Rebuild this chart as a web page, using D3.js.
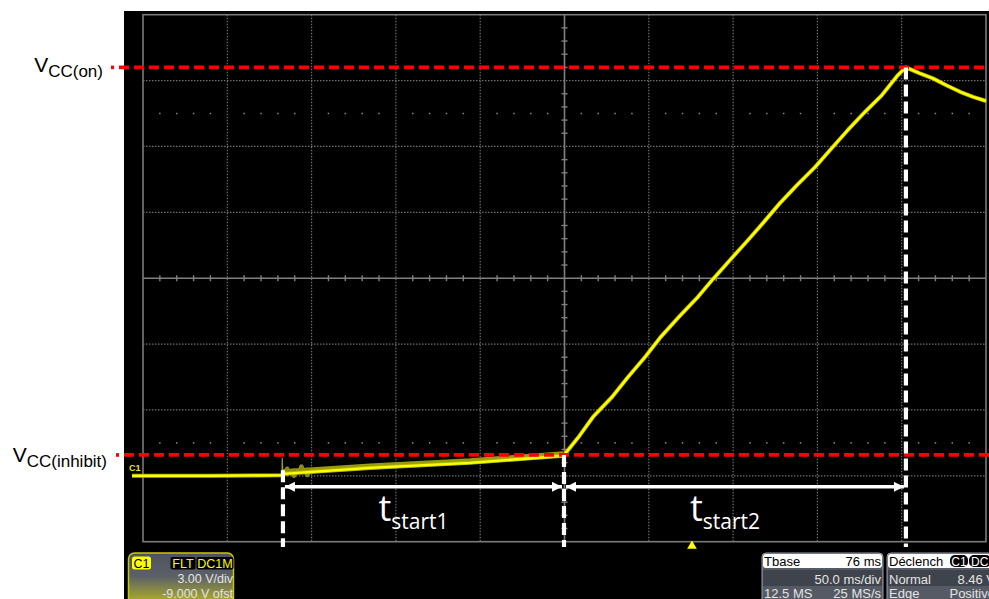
<!DOCTYPE html>
<html><head><meta charset="utf-8">
<script src="https://cdn.jsdelivr.net/npm/d3@7"></script>
<style>html,body{margin:0;padding:0;background:#fff;}svg{display:block}</style>
</head><body><svg id="c" width="989" height="599"></svg>
<script>
// ---- data (time in ms, voltage in V) ----
const xTicks = d3.range(0, 501, 50);          // 50 ms/div
const yTicks = d3.range(-3, 22, 3);           // 3 V/div, centre 9 V
const xMinor = d3.range(0, 501, 10);
const yMinor = d3.range(-3, 21.01, 0.6);
const dotRowsV = [16.5, 1.5];

const traceT = [-6.5, 40, 82.6, 83.0, 134.6, 193.9, 249.3, 250.3, 258.0, 266.9, 278.2, 287.7, 297.8, 306.6, 317.3, 328.6, 338.1, 348.2, 358.9, 367.7, 377.8, 387.9, 398.6, 408.6, 418.1, 428.2, 438.3, 447.8, 451.9, 452.5, 460.8, 468.5, 476.4, 484.6, 492.3, 500];
const traceV = [0.0, 0.0, 0.03, 0.09, 0.36, 0.59, 0.91, 1.0, 1.73, 2.68, 3.59, 4.50, 5.41, 6.28, 7.19, 8.10, 8.96, 9.83, 10.74, 11.51, 12.42, 13.24, 14.06, 14.93, 15.75, 16.57, 17.34, 18.25, 18.57, 18.60, 18.33, 18.10, 17.79, 17.49, 17.26, 17.07];
const rampT = [83.0, 134.6, 193.9, 249.3];
const rampV = [0.09, 0.36, 0.59, 0.91];
const glitchT = [82.4, 82.6, 82.9];
const glitchV = [0.05, 0.82, 0.1];
const noiseT = [85.5, 89.5, 94, 97.5];
const noiseV = [0.2, 0.12, 0.3, 0.15];

const levelNames = ["on", "inhibit"];
const levelV = [18.6, 0.95];
const markerT = [83.0, 249.7, 452.5];
const arrowV = -0.5;
const intervalNames = ["start1", "start2"];

const c1Info = ["C1", "FLT", "DC1M", "3.00 V/div", "-9.000 V ofst"];
const tbaseInfo = ["Tbase", "76 ms", "50.0 ms/div", "12.5 MS", "25 MS/s"];
const trigInfo = ["Déclench", "C1", "DC", "Normal", "8.46 V", "Edge", "Positive"];
const trigT = 325.6; // trigger position marker

// ---- scales ----
const x = d3.scaleLinear().domain([0, 500]).range([143, 986]);
const y = d3.scaleLinear().domain([-3, 21]).range([541.7, 14.7]);

const svg = d3.select("#c");
const defs = svg.append("defs");

svg.append("rect").attr("x", 124).attr("y", 11).attr("width", 865).attr("height", 588).attr("fill", "#000");

// grid
const g = svg.append("g");
g.selectAll(".gx").data(xTicks.slice(1, -1).filter(t => t !== 250)).join("line")
  .attr("x1", d => x(d)).attr("x2", d => x(d)).attr("y1", y(21)).attr("y2", y(-3))
  .attr("stroke", "#6e6e6e").attr("stroke-width", 1.2).attr("stroke-dasharray", "1.5,1.5");
g.selectAll(".gy").data(yTicks.slice(1, -1).filter(v => v !== 9)).join("line")
  .attr("x1", x(0)).attr("x2", x(500)).attr("y1", d => y(d)).attr("y2", d => y(d))
  .attr("stroke", "#6e6e6e").attr("stroke-width", 1.2).attr("stroke-dasharray", "1.5,1.5");
// dot rows
dotRowsV.forEach(v => {
  g.selectAll(null).data(xMinor.filter(t => t % 50 !== 0)).join("rect")
    .attr("x", d => x(d) - 0.75).attr("y", y(v) - 0.75).attr("width", 1.5).attr("height", 1.5).attr("fill", "#8a8a8a");
});
// centre axes with ticks
g.append("line").attr("x1", x(0)).attr("x2", x(500)).attr("y1", y(9)).attr("y2", y(9)).attr("stroke", "#808080").attr("stroke-width", 1.6);
g.append("line").attr("x1", x(250)).attr("x2", x(250)).attr("y1", y(21)).attr("y2", y(-3)).attr("stroke", "#808080").attr("stroke-width", 1.6);
g.selectAll(null).data(xMinor.filter(t => t % 50 !== 0)).join("line")
  .attr("x1", d => x(d)).attr("x2", d => x(d)).attr("y1", y(9) - 3).attr("y2", y(9) + 3).attr("stroke", "#808080").attr("stroke-width", 1.4);
g.selectAll(null).data(yMinor.filter(v => Math.abs(((v + 3) / 3) - Math.round((v + 3) / 3)) > 0.01)).join("line")
  .attr("x1", x(250) - 3).attr("x2", x(250) + 3).attr("y1", d => y(d)).attr("y2", d => y(d)).attr("stroke", "#808080").attr("stroke-width", 1.4);
// frame
g.append("rect").attr("x", x(0)).attr("y", y(21)).attr("width", x(500) - x(0)).attr("height", y(-3) - y(21))
  .attr("fill", "none").attr("stroke", "#7a7a7a").attr("stroke-width", 1.6);

// trace
const line = d3.line().x(d => x(d[0])).y(d => y(d[1]));
svg.append("path").datum(rampT.map((t, i) => [t, rampV[i] + 0.07]))
  .attr("d", line).attr("fill", "none").attr("stroke", "#9a9a10").attr("stroke-width", 6);
svg.selectAll(".nz").data(noiseT).join("ellipse")
  .attr("cx", d => x(d)).attr("cy", (d, i) => y(noiseV[i])).attr("rx", 3).attr("ry", 5).attr("fill", "#8c8c12");
svg.append("path").datum(glitchT.map((t, i) => [t, glitchV[i]]))
  .attr("d", line).attr("fill", "none").attr("stroke", "#9a9a20").attr("stroke-width", 1.2);
svg.append("path").datum(traceT.map((t, i) => [t, traceV[i]]))
  .attr("d", line).attr("fill", "none").attr("stroke", "#b5b500").attr("stroke-width", 4).attr("stroke-linejoin", "round");
svg.append("path").datum(traceT.map((t, i) => [t, traceV[i]]))
  .attr("d", line).attr("fill", "none").attr("stroke", "#ffff00").attr("stroke-width", 2.4).attr("stroke-linejoin", "round");
svg.append("text").attr("x", 129).attr("y", y(traceV[0]) - 5).text("C1")
  .attr("fill", "#e6e600").attr("font-family", "Liberation Sans, Arial").attr("font-size", 9).attr("font-weight", "bold");

// red threshold lines
levelV.forEach((v, i) => {
  const dotX = i === 0 ? 111 : 116;
  svg.append("rect").attr("x", dotX).attr("y", y(v) - 1.8).attr("width", 3).attr("height", 3.6).attr("fill", "#ff0000");
  svg.append("line").attr("x1", dotX + 8).attr("x2", 989).attr("y1", y(v)).attr("y2", y(v))
    .attr("stroke", "#ff0000").attr("stroke-width", 3.8).attr("stroke-dasharray", "10,5");
  const t = svg.append("text").attr("text-anchor", "end").attr("x", i === 0 ? 103 : 107)
    .attr("font-family", "Liberation Sans, Arial").attr("fill", "#000");
  t.append("tspan").attr("font-size", 21).attr("y", y(v) + (i === 0 ? 5 : 7)).text("V");
  t.append("tspan").attr("font-size", 17).attr("dy", 5).text("CC(" + levelNames[i] + ")");
});

// white dashed verticals
markerT.forEach((t, i) => {
  const top = i === 0 ? 0.25 : (i === 1 ? levelV[1] : levelV[0]);
  svg.append("line").attr("x1", x(t)).attr("x2", x(t)).attr("y1", y(top)).attr("y2", 547)
    .attr("stroke", "#fff").attr("stroke-width", 4.2).attr("stroke-dasharray", "12,5");
});

// arrows
defs.append("marker").attr("id", "ah").attr("viewBox", "0 0 10 10").attr("refX", 10).attr("refY", 5)
  .attr("markerUnits", "userSpaceOnUse").attr("markerWidth", 11).attr("markerHeight", 10).attr("orient", "auto-start-reverse")
  .append("path").attr("d", "M0,0 L10,5 L0,10 Z").attr("fill", "#fff");
[[markerT[0], markerT[1]], [markerT[1], markerT[2]]].forEach((p, i) => {
  svg.append("line").attr("x1", x(p[0]) + 2).attr("x2", x(p[1]) - 2).attr("y1", y(arrowV)).attr("y2", y(arrowV))
    .attr("stroke", "#fff").attr("stroke-width", 3.6).attr("marker-start", "url(#ah)").attr("marker-end", "url(#ah)");
  const mid = (x(p[0]) + x(p[1])) / 2;
  const tt = svg.append("text").attr("x", mid - 45).attr("y", 521).attr("fill", "#fff").attr("font-family", "Open Sans");
  tt.append("tspan").attr("font-size", 36).text("t");
  tt.append("tspan").attr("font-size", 21).attr("dy", 8).text(intervalNames[i]);
});

// trigger marker
svg.append("path").attr("d", d3.symbol(d3.symbolTriangle, 40)()).attr("transform", `translate(${x(trigT)},546)`).attr("fill", "#ffff00");

// bottom info panels
const grad = defs.append("linearGradient").attr("id", "c1g").attr("x1", 0).attr("x2", 0).attr("y1", 0).attr("y2", 1);
grad.append("stop").attr("offset", 0).attr("stop-color", "#4d5360");
grad.append("stop").attr("offset", 0.45).attr("stop-color", "#5c6068");
grad.append("stop").attr("offset", 1).attr("stop-color", "#b8b820");
const pf = "Liberation Sans, Arial";
svg.append("rect").attr("x", 128.5).attr("y", 553).attr("width", 105).attr("height", 52).attr("rx", 6)
  .attr("fill", "url(#c1g)").attr("stroke", "#c8c800").attr("stroke-width", 1.5);
svg.append("rect").attr("x", 132).attr("y", 556.5).attr("width", 19).attr("height", 13).attr("rx", 2.5).attr("fill", "#ffff00");
svg.append("text").attr("x", 141.5).attr("y", 567.5).attr("text-anchor", "middle").attr("font-family", pf).attr("font-size", 12.5).attr("fill", "#000").text(c1Info[0]);
svg.append("rect").attr("x", 170.5).attr("y", 557).attr("width", 25).attr("height", 12.5).attr("rx", 2).attr("fill", "#000");
svg.append("rect").attr("x", 196.5).attr("y", 557).attr("width", 37).attr("height", 12.5).attr("rx", 2).attr("fill", "#000");
svg.append("text").attr("x", 183).attr("y", 567.5).attr("text-anchor", "middle").attr("font-family", pf).attr("font-size", 12.5).attr("fill", "#ffff00").text(c1Info[1]);
svg.append("text").attr("x", 215).attr("y", 567.5).attr("text-anchor", "middle").attr("font-family", pf).attr("font-size", 12.5).attr("fill", "#ffff00").text(c1Info[2]);
svg.append("text").attr("x", 233).attr("y", 583).attr("text-anchor", "end").attr("font-family", pf).attr("font-size", 12.5).attr("fill", "#e4e4e4").text(c1Info[3]);
svg.append("text").attr("x", 233).attr("y", 597.5).attr("text-anchor", "end").attr("font-family", pf).attr("font-size", 12.5).attr("fill", "#e4e4e4").text(c1Info[4]);

function infoPanel(x0, w, header, rightHeader, rows) {
  const gg = svg.append("g");
  gg.append("rect").attr("x", x0).attr("y", 553).attr("width", w).attr("height", 52).attr("rx", 4).attr("fill", "#555a65").attr("stroke", "#9a9ea8").attr("stroke-width", 1);
  gg.append("rect").attr("x", x0 + 1).attr("y", 570).attr("width", w - 2).attr("height", 16).attr("fill", "#3f434c");
  gg.append("rect").attr("x", x0 + 1).attr("y", 554).attr("width", w - 2).attr("height", 14).attr("rx", 3).attr("fill", "#fff");
  gg.append("text").attr("x", x0 + 2).attr("y", 566).attr("font-family", pf).attr("font-size", 13).attr("fill", "#000").text(header);
  rightHeader(gg);
  rows.forEach((r, i) => {
    const yy = 584 + i * 13.5;
    if (r[0]) gg.append("text").attr("x", x0 + 2).attr("y", yy).attr("font-family", pf).attr("font-size", 13).attr("fill", "#e4e4e4").text(r[0]);
    gg.append("text").attr("x", x0 + w - 2).attr("y", yy).attr("text-anchor", "end").attr("font-family", pf).attr("font-size", 13).attr("fill", "#e4e4e4").text(r[1]);
  });
}
infoPanel(762, 121, tbaseInfo[0], gg => {
  gg.append("text").attr("x", 881).attr("y", 566).attr("text-anchor", "end").attr("font-family", pf).attr("font-size", 13).attr("fill", "#000").text(tbaseInfo[1]);
}, [["", tbaseInfo[2]], [tbaseInfo[3], tbaseInfo[4]]]);
infoPanel(887, 110, trigInfo[0], gg => {
  gg.append("rect").attr("x", 950).attr("y", 555).attr("width", 18).attr("height", 12).attr("rx", 5).attr("fill", "#000");
  gg.append("rect").attr("x", 969).attr("y", 555).attr("width", 22).attr("height", 12).attr("rx", 5).attr("fill", "#000");
  gg.append("text").attr("x", 959).attr("y", 565.5).attr("text-anchor", "middle").attr("font-family", pf).attr("font-size", 12).attr("fill", "#fff").text(trigInfo[1]);
  gg.append("text").attr("x", 971).attr("y", 565.5).attr("font-family", pf).attr("font-size", 12).attr("fill", "#fff").text(trigInfo[2]);
}, [[trigInfo[3], trigInfo[4]], [trigInfo[5], trigInfo[6]]]);
</script></body></html>
